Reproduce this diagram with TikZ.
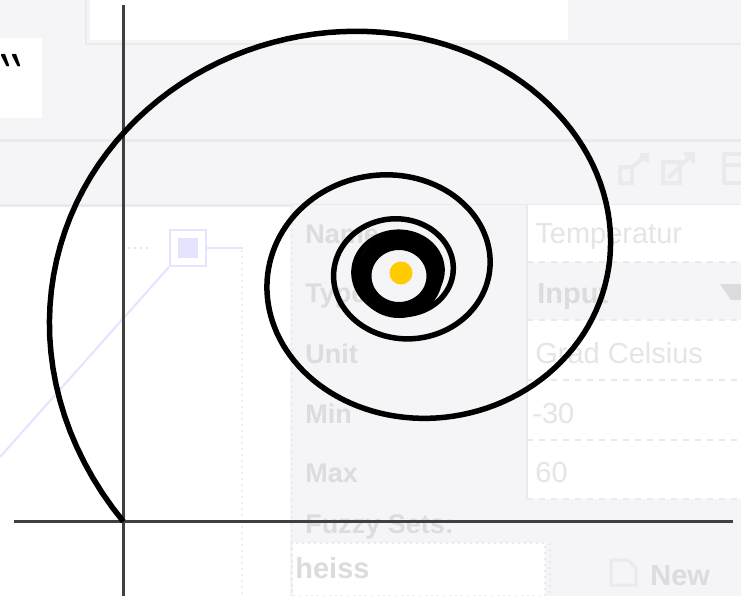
\documentclass[tikz,border=0pt]{standalone}
\usepackage{graphicx}
\usepackage{fontspec}
\setmainfont{Liberation Sans}
\definecolor{panel}{HTML}{F5F5F8}
\definecolor{ghost}{HTML}{DCDCDF}
\definecolor{ghostval}{HTML}{E5E5E8}
\definecolor{ghostline}{HTML}{E9E9EE}
\definecolor{chart}{HTML}{E4E4FF}
\definecolor{axisgray}{HTML}{404040}
\definecolor{sun}{HTML}{FFCC00}
\begin{document}
\begin{tikzpicture}[x=0.5pt, y=-0.5pt,
	every node/.style={inner sep=0pt, anchor=base west},
	lbl/.style={text=ghost, font=\bfseries\fontsize{13.5}{13.5}\selectfont},
	val/.style={text=ghostval, font=\fontsize{14.5}{14.5}\selectfont},
	sep/.style={ghostline, dashed, line width=1pt},
	axisline/.style={axisgray, line width=1.5pt},
	curl/.style={black, line width=2.75pt, line join=round}]
	\useasboundingbox (0,0) rectangle (741,596);
	% faded window behind the spiral
	\fill[white] (0,0) rectangle (741,596);
	\fill[panel] (0,0) rectangle (741,205);
	\fill[white] (90,0) rectangle (568,40);
	\fill[white] (0,38) rectangle (42,118);
	\draw[ghostline, line width=1pt] (86,0) -- (86,44) -- (741,44);
	\draw[ghostline, line width=1.5pt] (0,140) -- (741,140);
	\draw[ghostline, line width=1.5pt] (0,205) -- (741,205);
	\node[font=\bfseries\fontsize{36}{36}\selectfont] (quote) at (0,112) {\scalebox{0.45}[1.1]{\textasciigrave\textasciigrave}};
	% window buttons
	\draw[ghostline, line width=2pt] (620,167) rectangle (632,183) (632,167) -- (647,155) (640,155) -- (647,155) -- (647,162);
	\draw[ghostline, line width=2pt] (663,162) rectangle (680,183) (668,178) -- (693,154) (684,154) -- (693,154) -- (693,163);
	\draw[ghostline, line width=2pt] (724,154) rectangle (745,183) (724,165) -- (741,165);
	% chart
	\node[draw=chart, line width=1pt, minimum size=18pt, anchor=center] (mark) at (188,248) {};
	\fill[chart] (178,238) rectangle (198,258);
	\draw[chart, line width=1pt] (mark.east) -- (243,248);
	\draw[chart, line width=1pt] (mark.south west) -- (0,457);
	\draw[chart, dotted, line width=1pt] (128,248) -- (150,248);
	\draw[chart!70, dotted, line width=1pt] (242,250) -- (242,596);
	% property panel
	\fill[panel] (290,205) rectangle (741,596);
	\fill[white] (527,205) rectangle (741,262);
	\fill[white] (527,320) rectangle (741,499);
	\fill[white] (292,543) rectangle (545,596);
	\draw[ghostline, dotted, line width=1pt] (292,205) -- (292,596);
	\draw[ghostline, line width=1pt] (527,205) -- (527,499);
	\foreach \y in {262,320,380,440,499}
		\draw[sep] (527,\y) -- (741,\y);
	\draw[ghostline, dotted, line width=1pt] (292,543) rectangle (545,596) (550,543) -- (550,596);
	\node[lbl] (name) at (305,243) {Name};
	\node[lbl] (type) at (305,302) {Type};
	\node[lbl] (unit) at (305,363) {Unit};
	\node[lbl] (min) at (305,423) {Min};
	\node[lbl] (max) at (305,482) {Max};
	\node[lbl] (sets) at (305,533) {Fuzzy Sets:};
	\node[val] (vname) at (535,243) {Temperatur};
	\node[lbl, font=\bfseries\fontsize{14.5}{14.5}\selectfont] (vtype) at (537,303) {Input};
	\fill[ghost] (720,284) -- (741,284) -- (741,300) -- (731,300) -- cycle;
	\node[val] (vunit) at (535,363) {Grad Celsius};
	\node[val] (vmin) at (532,423) {-30};
	\node[val] (vmax) at (535,482) {60};
	\node[lbl, font=\bfseries\fontsize{14.5}{14.5}\selectfont] (set1) at (295,578) {heiss};
	\draw[ghostline, line width=1.5pt] (611,560) -- (628,560) -- (636,568) -- (636,585) -- (611,585) -- cycle;
	\node[lbl, font=\bfseries\fontsize{14.5}{14.5}\selectfont] (new) at (650,585) {New};
	% axes
	\coordinate (o) at (123,521);
	\coordinate (xl) at (14,521);
	\coordinate (xr) at (733,521);
	\coordinate (yt) at (123,5);
	\coordinate (yb) at (123,596);
	\draw[axisline] (xl) -- (xr);
	\draw[axisline] (yt) -- (yb);
	% spiral
	\draw[curl] plot[domain=0:1400, samples=500, variable=\t]
		({400+1.06*(35+338*exp(-\t/305))*cos(225.6-\t)},
		 {271-0.94*(35+338*exp(-\t/305))*sin(225.6-\t)});
	\draw[black, line width=8pt] (399,276) ellipse (17.75pt and 17pt);
	\fill[sun] (401,273) circle (5.75pt);
\end{tikzpicture}
\end{document}
